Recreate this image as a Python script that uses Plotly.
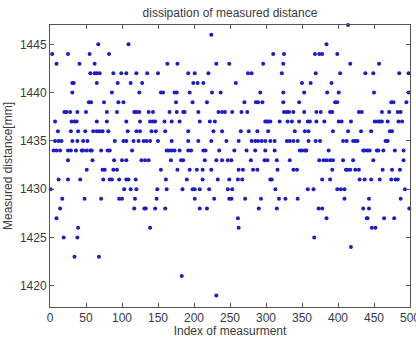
import plotly.graph_objects as go

# Measured distance levels [mm] and the measurement indices observed at each level
levels = [1447, 1446, 1445, 1444, 1443, 1442, 1441, 1440, 1439, 1438, 1437, 1436,
          1435, 1434, 1433, 1432, 1431, 1430, 1429, 1428, 1427, 1426, 1425, 1424,
          1423, 1421, 1419]

indices_by_level = [
    [414],
    [224],
    [67, 109, 384],
    [3, 25, 55, 82, 310, 325, 368, 374, 378, 399],
    [9, 41, 62, 163, 177, 231, 249, 296, 324, 417, 457],
    [56, 62, 65, 69, 88, 99, 106, 120, 135, 150, 192, 201, 220, 275, 280, 322,
     369, 403, 438, 449, 485, 498],
    [31, 33, 65, 94, 112, 128, 199, 205, 213, 258, 350, 362, 391],
    [31, 86, 124, 154, 157, 173, 176, 194, 225, 237, 292, 324, 353, 385, 401,
     450, 498],
    [54, 57, 75, 95, 102, 175, 198, 218, 270, 286, 289, 295, 324, 346, 396, 399,
     474, 477, 495],
    [20, 23, 28, 38, 50, 79, 93, 117, 120, 124, 137, 143, 166, 176, 185, 187,
     206, 234, 239, 243, 253, 266, 274, 325, 329, 332, 338, 353, 370, 376, 389,
     392, 429, 433, 461, 471, 483, 487],
    [7, 30, 34, 37, 65, 79, 106, 125, 139, 143, 146, 159, 169, 180, 208, 222,
     229, 299, 301, 303, 306, 319, 330, 336, 346, 358, 361, 370, 381, 401, 405,
     418, 451, 455, 458, 461, 469, 484, 489],
    [11, 29, 39, 49, 60, 65, 69, 73, 81, 108, 120, 125, 141, 147, 160, 192, 227,
     239, 265, 276, 288, 303, 340, 354, 359, 393, 414, 432, 446, 472, 475],
    [7, 12, 16, 31, 38, 46, 52, 90, 102, 106, 116, 123, 130, 134, 139, 150, 169,
     192, 206, 224, 245, 262, 280, 285, 289, 294, 299, 306, 312, 329, 333, 338,
     344, 359, 369, 375, 407, 412, 421, 424, 427, 466, 469],
    [5, 9, 14, 25, 29, 36, 44, 46, 51, 56, 58, 71, 80, 83, 114, 162, 165, 169,
     173, 180, 192, 196, 213, 216, 235, 256, 273, 285, 299, 312, 347, 350, 354,
     356, 387, 435, 437, 441, 444, 454, 456, 463, 479, 491],
    [25, 59, 89, 100, 106, 127, 132, 137, 168, 182, 185, 215, 231, 239, 247,
     252, 279, 298, 302, 315, 333, 374, 380, 384, 389, 393, 407, 421, 449, 491],
    [51, 73, 76, 88, 93, 154, 177, 194, 204, 212, 224, 262, 268, 282, 288, 316,
     338, 343, 392, 411, 413, 417, 424, 429, 462, 475, 486],
    [12, 25, 42, 74, 83, 86, 96, 106, 109, 119, 161, 190, 212, 233, 249, 261,
     267, 306, 308, 378, 389, 430, 437, 446, 458, 474, 480, 483],
    [1, 103, 112, 120, 149, 162, 184, 198, 201, 208, 221, 247, 253, 313, 358,
     366, 399, 404, 409, 493],
    [17, 48, 71, 96, 100, 118, 148, 201, 228, 249, 252, 271, 293, 318, 327, 344,
     409, 443, 487],
    [14, 117, 131, 133, 146, 160, 208, 218, 290, 315, 373, 378, 435, 443, 499],
    [9, 261, 384, 440, 441, 464, 478],
    [39, 139, 262, 447, 452],
    [19, 38, 367],
    [418],
    [34, 68],
    [183],
    [231],
]

x_ticks = [0, 50, 100, 150, 200, 250, 300, 350, 400, 450, 500]
y_ticks = [1420, 1425, 1430, 1435, 1440, 1445]

xs, ys = [], []
for lv, idxs in zip(levels, indices_by_level):
    xs.extend(idxs)
    ys.extend([lv] * len(idxs))

FONT = "Liberation Sans Narrow, Liberation Sans, Arial, sans-serif"
TXT = "#3a3a3a"

fig = go.Figure(
    go.Scatter(
        x=xs, y=ys, mode="markers",
        marker=dict(size=4, color="#1c1cc8", line=dict(width=0)),
        cliponaxis=False,
    )
)

axis_common = dict(
    showgrid=False, zeroline=False, showline=True, linecolor="#555555",
    linewidth=1, mirror="allticks", ticks="inside", ticklen=4,
    tickcolor="#555555", tickfont=dict(family=FONT, size=12, color=TXT),
    automargin=False, ticklabeloverflow="allow",
)

fig.update_layout(
    width=416, height=338,
    margin=dict(l=50, r=6, t=25, b=31),
    paper_bgcolor="white", plot_bgcolor="white",
    showlegend=False,
    title=dict(
        text="dissipation of measured distance",
        x=0.5, xref="paper", xanchor="center",
        y=1 - 13 / 338, yref="container", yanchor="middle",
        font=dict(family=FONT, size=12, color=TXT),
    ),
    xaxis=dict(
        range=[0, 500], tickvals=x_ticks,
        title=dict(text="Index of measurment", standoff=2,
                   font=dict(family=FONT, size=12, color=TXT)),
        **axis_common,
    ),
    yaxis=dict(
        range=[1417.8, 1447], tickvals=y_ticks,
        title=dict(text="Measured distance[mm]", standoff=4,
                   font=dict(family=FONT, size=12, color=TXT)),
        **axis_common,
    ),
)

fig.write_html("out.html")
